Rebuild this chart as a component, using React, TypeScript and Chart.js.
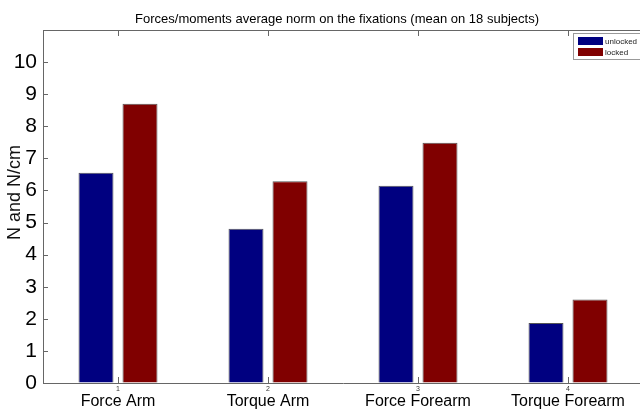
import React, { useEffect, useRef } from 'react';
import { Chart, registerables } from 'chart.js';

Chart.register(...registerables);

// ---- data ----
const categories = ['Force Arm', 'Torque Arm', 'Force Forearm', 'Torque Forearm'];
const categoryNumbers = ['1', '2', '3', '4'];
const seriesNames = ['unlocked', 'locked'];
const unlockedValues = [6.55, 4.81, 6.15, 1.87];
const lockedValues = [8.7, 6.29, 7.49, 2.6];
const yMax = 11;
const yLastLabel = 10;
const chartTitle = 'Forces/moments average norm on the fixations (mean on 18 subjects)';
const yAxisTitle = 'N and N/cm';

// ---- style ----
const FONT = '"Liberation Sans", Arial, Helvetica, sans-serif';
const AXIS = '#666666';
const BLUE = '#000080';
const RED = '#800000';

const decorations = {
  id: 'decorations',
  afterDraw(chart: any) {
    const { ctx, chartArea: a } = chart;
    const xs = chart.scales.x;
    const ys = chart.scales.y;
    ctx.save();

    // top box line
    ctx.strokeStyle = AXIS;
    ctx.lineWidth = 1;
    ctx.beginPath();
    ctx.moveTo(a.left, a.top + 0.5);
    ctx.lineTo(a.right, a.top + 0.5);
    ctx.stroke();

    // inward tick marks
    ctx.beginPath();
    xs.ticks.forEach((_t: any, i: number) => {
      const px = Math.round(xs.getPixelForTick(i)) + 0.5;
      ctx.moveTo(px, a.bottom);
      ctx.lineTo(px, a.bottom - 6);
      ctx.moveTo(px, a.top);
      ctx.lineTo(px, a.top + 6);
    });
    ys.ticks.forEach((t: any) => {
      if (t.value > yLastLabel) return;
      const py = Math.round(ys.getPixelForValue(t.value)) + 0.5;
      ctx.moveTo(a.left, py);
      ctx.lineTo(a.left + 5, py);
    });
    ctx.stroke();

    // small numeric tick labels
    ctx.fillStyle = '#333333';
    ctx.font = `7px ${FONT}`;
    ctx.textAlign = 'center';
    ctx.textBaseline = 'middle';
    categoryNumbers.forEach((n, i) => {
      ctx.fillText(n, xs.getPixelForTick(i), a.bottom + 6);
    });

    // title
    ctx.fillStyle = '#000000';
    ctx.font = `13px ${FONT}`;
    ctx.fillText(chartTitle, (a.left + a.right) / 2 - 6, 19);

    // y axis title
    ctx.save();
    ctx.translate(15, (a.top + a.bottom) / 2 - 14);
    ctx.rotate(-Math.PI / 2);
    ctx.font = `18px ${FONT}`;
    ctx.fillStyle = '#111111';
    ctx.fillText(yAxisTitle, 0, 0);
    ctx.restore();

    // legend
    const lx = a.right - 70;
    const ly = a.top + 3;
    ctx.fillStyle = '#ffffff';
    ctx.fillRect(lx, ly, 100, 26);
    ctx.strokeStyle = '#999999';
    ctx.strokeRect(lx + 0.5, ly + 0.5, 100, 26);
    chart.data.datasets.forEach((ds: any, i: number) => {
      const sy = ly + 4 + i * 11;
      ctx.fillStyle = ds.backgroundColor;
      ctx.fillRect(lx + 5, sy, 25, 8);
      ctx.fillStyle = '#222222';
      ctx.font = `8px ${FONT}`;
      ctx.textAlign = 'left';
      ctx.textBaseline = 'middle';
      ctx.fillText(ds.label, lx + 32, sy + 4.5);
    });

    ctx.restore();
  },
};

export default function App() {
  const ref = useRef<HTMLCanvasElement | null>(null);

  useEffect(() => {
    if (!ref.current) return;
    const chart = new Chart(ref.current, {
      type: 'bar',
      data: {
        labels: categories,
        datasets: [
          {
            label: seriesNames[0],
            data: unlockedValues,
            backgroundColor: BLUE,
            borderColor: '#555555',
            borderWidth: 1,
          },
          {
            label: seriesNames[1],
            data: lockedValues,
            backgroundColor: RED,
            borderColor: '#555555',
            borderWidth: 1,
          },
        ],
      },
      options: {
        responsive: false,
        animation: false,
        devicePixelRatio: 1,
        layout: { padding: { left: 0, right: 17, top: 30, bottom: 0 } },
        datasets: {
          bar: { categoryPercentage: 0.5867, barPercentage: 0.795 },
        },
        plugins: {
          legend: { display: false },
          title: { display: false },
          tooltip: { enabled: false },
        },
        scales: {
          x: {
            grid: { display: true, drawOnChartArea: false, drawTicks: false },
            border: { display: true, color: AXIS },
            ticks: {
              color: '#000000',
              font: { family: FONT, size: 16 },
              padding: 9,
              maxRotation: 0,
            },
            afterFit: (s: any) => {
              s.height = 31;
            },
          },
          y: {
            min: 0,
            max: yMax,
            grid: { display: true, drawOnChartArea: false, drawTicks: false },
            border: { display: true, color: AXIS },
            ticks: {
              stepSize: 1,
              color: '#000000',
              font: { family: FONT, size: 21 },
              padding: 6,
              callback: (v: any) => (Number(v) > yLastLabel ? '' : String(v)),
            },
            afterFit: (s: any) => {
              s.width = 43;
            },
          },
        },
      },
      plugins: [decorations],
    });
    return () => chart.destroy();
  }, []);

  return (
    <div
      style={{
        position: 'fixed',
        left: 0,
        top: 0,
        width: 640,
        height: 414,
        overflow: 'hidden',
        background: '#ffffff',
      }}
    >
      <canvas ref={ref} width={660} height={414} style={{ display: 'block' }} />
    </div>
  );
}
